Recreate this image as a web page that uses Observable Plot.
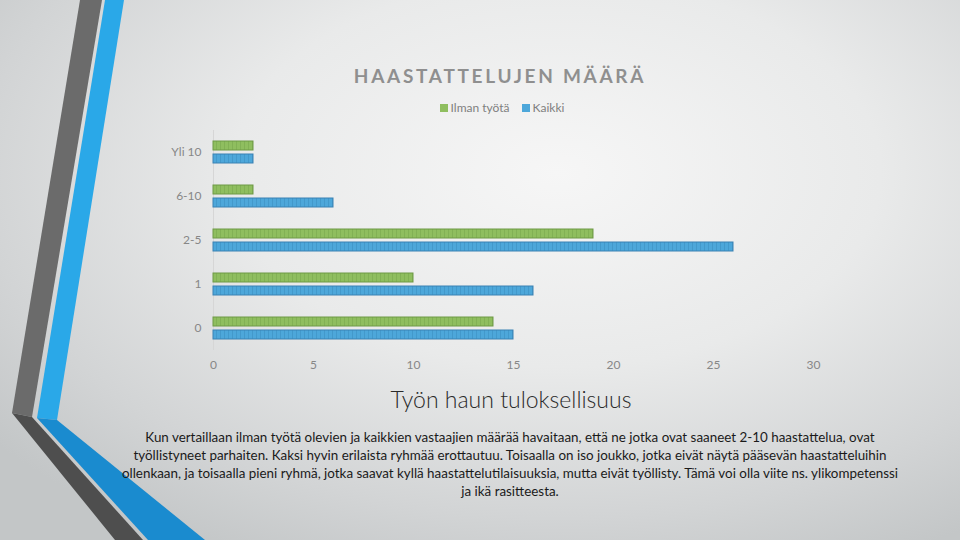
<!DOCTYPE html>
<html>
<head>
<meta charset="utf-8">
<script src="https://cdn.jsdelivr.net/npm/d3@7"></script>
<script src="https://cdn.jsdelivr.net/npm/@observablehq/plot@0.6"></script>
<style>
  html, body { margin: 0; padding: 0; }
  body {
    width: 960px; height: 540px; overflow: hidden; position: relative;
    background: radial-gradient(ellipse 75% 80% at 58% 32%, #f6f6f6 0%, #e9eaea 45%, #d2d4d5 80%, #c3c6c7 100%);
    font-family: Lato, "Open Sans", sans-serif;
  }
  #deco { position: absolute; left: 0; top: 0; }
  #title {
    position: absolute; left: 0; width: 1000px; top: 64px; text-align: center;
    font-size: 19px; font-weight: 700; letter-spacing: 2.7px; color: #8f8f8f;
  }
  #legend {
    position: absolute; left: 0; width: 1004px; top: 100px; text-align: center;
    font-size: 12px; color: #7f7f7f;
  }
  #legend span.sw { display: inline-block; width: 8px; height: 8px; margin-right: 3px; vertical-align: 0px; }
  #legend span.item { margin: 0 6px; }
  #chart { position: absolute; left: 0; top: 120px; }
  #heading {
    position: absolute; left: 0; width: 1022px; top: 385px; text-align: center;
    font-size: 23px; font-weight: 300; color: #2a2a2a;
  }
  #para {
    position: absolute; left: 0; width: 1020px; top: 428px; text-align: center;
    font-size: 13.4px; line-height: 18px; color: #1a1a1a; white-space: nowrap;
  }
</style>
</head>
<body>
<svg id="deco" width="960" height="540">
  <defs>
    <pattern id="patG" patternUnits="userSpaceOnUse" width="4" height="20">
      <rect width="4" height="20" fill="#8fbe5f"></rect>
      <line x1="0.5" y1="0" x2="0.5" y2="20" stroke="#7aa84e" stroke-width="1" opacity="0.6"></line>
    </pattern>
    <pattern id="patB" patternUnits="userSpaceOnUse" width="4" height="20">
      <rect width="4" height="20" fill="#4da7da"></rect>
      <line x1="0.5" y1="0" x2="0.5" y2="20" stroke="#3b8fc2" stroke-width="1" opacity="0.6"></line>
    </pattern>
  </defs>
  <polygon points="80,0 102,0 32,417 12,413" fill="#6b6b6b"></polygon>
  <polygon points="105,0 124,0 57,420 37,418" fill="#2aa8e8"></polygon>
  <polygon points="12,413 32,417 143,540 115,540" fill="#4e4e4e"></polygon>
  <polygon points="37,418 57,420 205,540 148,540" fill="#1a8bcf"></polygon>
</svg>
<div id="title">HAASTATTELUJEN MÄÄRÄ</div>
<div id="legend"></div>
<div id="chart"></div>
<div id="heading">Työn haun tuloksellisuus</div>
<div id="para">Kun vertaillaan ilman työtä olevien ja kaikkien vastaajien määrää havaitaan, että ne jotka ovat saaneet 2-10 haastattelua, ovat<br>työllistyneet parhaiten. Kaksi hyvin erilaista ryhmää erottautuu. Toisaalla on iso joukko, jotka eivät näytä pääsevän haastatteluihin<br>ollenkaan, ja toisaalla pieni ryhmä, jotka saavat kyllä haastattelutilaisuuksia, mutta eivät työllisty. Tämä voi olla viite ns. ylikompetenssi<br>ja ikä rasitteesta.</div>
<script>
// Data
const categories = ["Yli 10", "6-10", "2-5", "1", "0"];
const seriesNames = ["Ilman työtä", "Kaikki"];
const ilmanTyota = [2, 2, 19, 10, 14];
const kaikki = [2, 6, 26, 16, 15];
const xTicks = [0, 5, 10, 15, 20, 25, 30];
const seriesColors = ["#8fbe5f", "#4da7da"];

const rows = categories.flatMap((c, i) => [
  {category: c, series: seriesNames[0], value: ilmanTyota[i]},
  {category: c, series: seriesNames[1], value: kaikki[i]}
]);

// Legend
const legend = document.getElementById("legend");
seriesNames.forEach((s, i) => {
  const item = document.createElement("span");
  item.className = "item";
  item.innerHTML = `<span class="sw" style="background:${seriesColors[i]}"></span>${s}`;
  legend.appendChild(item);
});

const chart = Plot.plot({
  width: 960,
  height: 260,
  marginLeft: 213,
  marginRight: 147,
  marginTop: 10,
  marginBottom: 30,
  style: {background: "transparent", fontFamily: "Lato, sans-serif", fontSize: "12px", color: "#878787", overflow: "visible"},
  x: {domain: [0, 30], ticks: xTicks, tickSize: 0, tickPadding: 10, label: null},
  y: {domain: seriesNames, axis: null, paddingInner: 0.3077, paddingOuter: 0.846},
  fy: {domain: categories, padding: 0, label: null, axis: "left", tickSize: 0, tickPadding: 12},
  marks: [
    Plot.ruleX([0], {stroke: "#d6d6d6", strokeWidth: 1}),
    Plot.barX(rows.filter(d => d.series === seriesNames[0]), {
      x: "value", y: "series", fy: "category",
      fill: "url(#patG)", stroke: "#6f9a46", strokeWidth: 1
    }),
    Plot.barX(rows.filter(d => d.series === seriesNames[1]), {
      x: "value", y: "series", fy: "category",
      fill: "url(#patB)", stroke: "#3a82b4", strokeWidth: 1
    })
  ]
});
document.getElementById("chart").appendChild(chart);
</script>
</body>
</html>
